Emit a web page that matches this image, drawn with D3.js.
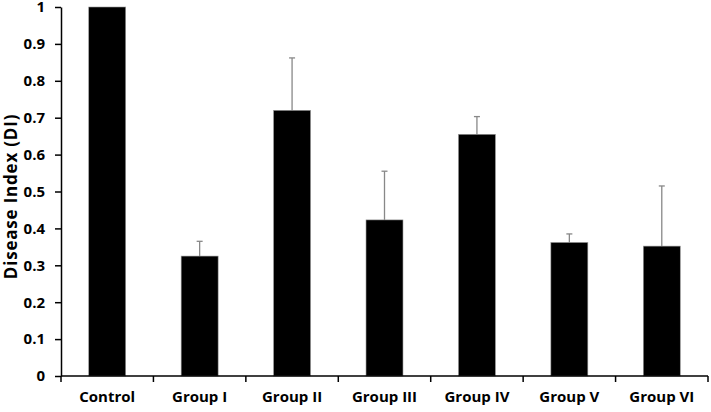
<!DOCTYPE html>
<html>
<head>
<meta charset="utf-8">
<style>
  html, body { margin: 0; padding: 0; background: #fff; overflow: hidden; }
  svg { display: block; }
  text { font-family: "Open Sans", "Noto Sans", sans-serif; font-weight: bold; fill: #000; }
  .axis path, .axis line { stroke: #000; stroke-width: 1.5; }
</style>
</head>
<body>
<svg width="711" height="412"></svg>
<script src="https://cdnjs.cloudflare.com/ajax/libs/d3/7.8.5/d3.min.js"></script>
<script>

var groups = ["Control", "Group I", "Group II", "Group III", "Group IV", "Group V", "Group VI"];
var meanDI = [1.0, 0.325, 0.72, 0.423, 0.655, 0.362, 0.352];
var errUp = [0, 0.04, 0.142, 0.132, 0.048, 0.023, 0.163];
var yTicks = [0, 0.1, 0.2, 0.3, 0.4, 0.5, 0.6, 0.7, 0.8, 0.9, 1];

var width = 711;
var height = 412;

var margin = {
	top: 7,
	right: 3,
	bottom: 36,
	left: 61
};

var innerWidth = width - margin.left - margin.right;
var innerHeight = height - margin.top - margin.bottom;

var svg = d3.select("svg")
	.append('g')
	.attr("transform", "translate(" + margin.left + "," + margin.top + ")");

var x = d3.scaleBand()
	.domain(groups)
	.range([0, innerWidth])
	.paddingInner(0.6)
	.paddingOuter(0.3);

var xb = d3.scaleBand().domain(groups).range([0, innerWidth]);

var y = d3.scaleLinear()
	.domain([0, 1])
	.range([innerHeight, 0]);

var data = groups.map(function(g, i) {
	return { name: g, value: meanDI[i], err: errUp[i] };
});

// error bars (upper only)
svg.selectAll('.err')
	.data(data.filter(function(d) { return d.err > 0; }))
	.join('g')
	.attr('class', 'err')
	.each(function(d) {
		var cx = x(d.name) + x.bandwidth() / 2;
		var g = d3.select(this);
		g.append('line')
			.attr('x1', cx).attr('x2', cx)
			.attr('y1', y(d.value)).attr('y2', y(d.value + d.err))
			.attr('stroke', '#888').attr('stroke-width', 1.3);
		g.append('line')
			.attr('x1', cx - 3).attr('x2', cx + 3)
			.attr('y1', y(d.value + d.err)).attr('y2', y(d.value + d.err))
			.attr('stroke', '#888').attr('stroke-width', 1.3);
	});

svg.selectAll('.bar')
	.data(data)
	.join('rect')
	.attr('class', 'bar')
	.attr('x', function(d) { return x(d.name); })
	.attr('y', function(d) { return y(d.value); })
	.attr('width', x.bandwidth())
	.attr('height', function(d) { return innerHeight - y(d.value); })
	.attr('fill', '#000')
	.attr('stroke', '#999')
	.attr('stroke-width', 0.6);

// x axis with ticks at category boundaries
var xAxis = svg.append('g')
	.attr('class', 'axis')
	.attr("transform", "translate(0," + innerHeight + ")");

xAxis.append('line')
	.attr('x1', 0).attr('x2', innerWidth)
	.attr('y1', 0).attr('y2', 0)
	.attr('stroke', '#000').attr('stroke-width', 1.5);

var bounds = groups.map(function(g) { return xb(g); }).concat([innerWidth]);
xAxis.selectAll('.xtick')
	.data(bounds)
	.join('line')
	.attr('x1', function(d) { return d; })
	.attr('x2', function(d) { return d; })
	.attr('y1', 0).attr('y2', 6)
	.attr('stroke', '#000').attr('stroke-width', 1.5);

xAxis.selectAll('.xlabel')
	.data(groups)
	.join('text')
	.attr('x', function(d) { return x(d) + x.bandwidth() / 2; })
	.attr('y', 26)
	.attr('text-anchor', 'middle')
	.style('font-size', '15px')
	.text(function(d) { return d; });

// y axis
var yAxis = svg.append('g')
	.attr('class', 'axis')
	.call(d3.axisLeft(y).tickValues(yTicks).tickSize(6).tickSizeOuter(0)
		.tickFormat(function(d) { return d === 0 || d === 1 ? d : d3.format('.1f')(d); }));

yAxis.select('.domain').attr('stroke-width', 1.5);
yAxis.selectAll('.tick text')
	.attr('x', -16)
	.style('font-size', '15px')
	.style('font-family', '"Open Sans", sans-serif')
	.style('font-weight', 'bold');

svg.append('text')
	.attr('transform', 'rotate(-90)')
	.attr('x', -(innerHeight / 2 + 5))
	.attr('y', -44)
	.attr('text-anchor', 'middle')
	.style('font-size', '17px')
	.style('letter-spacing', '0.8px')
	.text('Disease Index (DI)');

</script>
</body>
</html>
